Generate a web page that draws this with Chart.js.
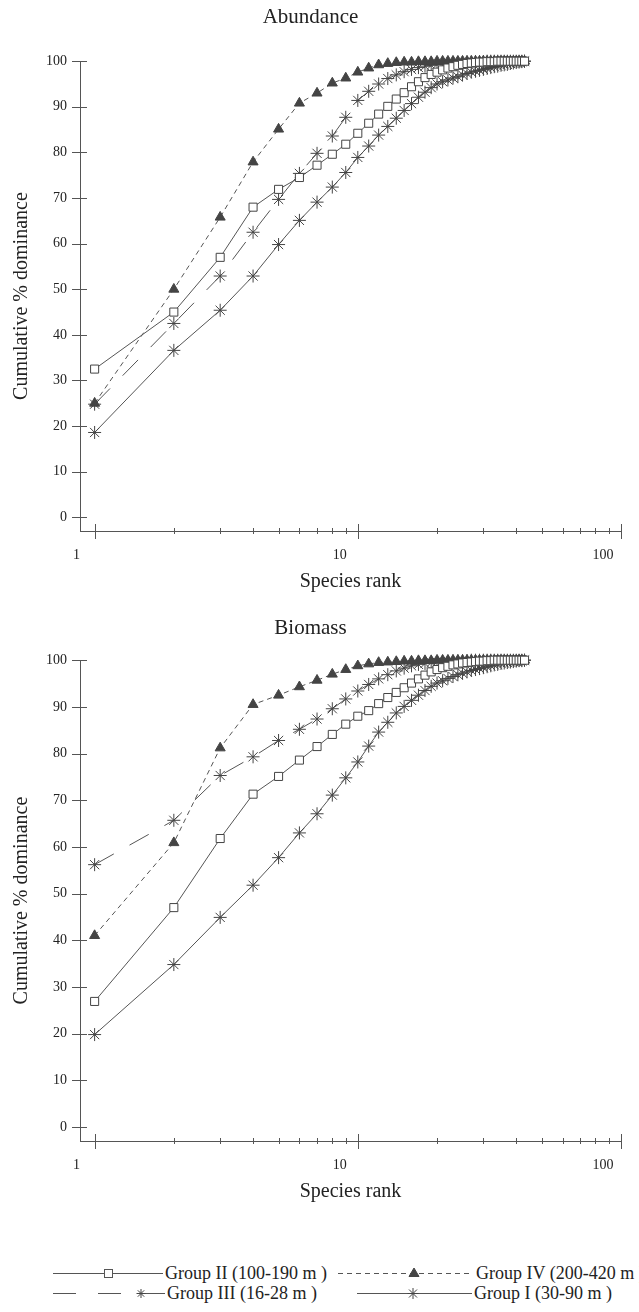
<!DOCTYPE html>
<html>
<head>
<meta charset="utf-8">
<script src="https://cdn.jsdelivr.net/npm/chart.js@4.4.1/dist/chart.umd.min.js"></script>
<style>
  html, body { margin: 0; padding: 0; background: #fff; overflow: hidden; }
  #page { position: relative; width: 639px; height: 1312px; overflow: hidden; }
  canvas { position: absolute; left: 0; }
  .lg { position: absolute; white-space: nowrap; line-height: 20px; font-family: 'Liberation Serif', 'Times New Roman', serif; font-size: 18px; color: #222; }
</style>
</head>
<body>
<div id="page">
  <canvas id="abundance" width="684" height="600" style="top:0"></canvas>
  <canvas id="biomass" width="684" height="610" style="top:600px"></canvas>
  <svg width="639" height="72" style="position:absolute;left:0;top:1240px" stroke="#555" stroke-width="1" fill="none">
    <line x1="53" y1="33.5" x2="163" y2="33.5"/>
    <rect x="104.5" y="29.5" width="8" height="8" fill="#fff"/>
    <line x1="338" y1="33.5" x2="473" y2="33.5" stroke-dasharray="5 4"/>
    <polygon points="414,28 419,36.5 409,36.5" fill="#444" stroke="#444"/>
    <line x1="53" y1="53.5" x2="165" y2="53.5" stroke-dasharray="23 22"/>
    <path d="M141 49v9M136.5 53.5h9M137.8 50.3l6.4 6.4M144.2 50.3l-6.4 6.4" stroke="#444"/>
    <line x1="357" y1="53.5" x2="472" y2="53.5"/>
    <path d="M413 48v11M407.5 53.5h11M409 49.5l8 8M417 49.5l-8 8" stroke="#444"/>
  </svg>
  <div class="lg" style="left:165px;top:1263px">Group II (100-190 m )</div>
  <div class="lg" style="left:476px;top:1263px">Group IV (200-420 m )</div>
  <div class="lg" style="left:167px;top:1283px">Group III (16-28 m )</div>
  <div class="lg" style="left:474px;top:1283px">Group I (30-90 m )</div>
</div>
<script>
// species rank of each point
const ranks = [1, 2, 3, 4, 5, 6, 7, 8, 9, 10, 11, 12, 13, 14, 15, 16, 17, 18, 19, 20, 21, 22,
    23, 24, 25, 26, 27, 28, 29, 30, 31, 32, 33, 34, 35, 36, 37, 38, 39, 40, 41, 42, 43];
const rankTicks = [1, 2, 3, 4, 5, 6, 7, 8, 9, 10, 20, 30, 40, 50, 60, 70, 80, 90, 100];
const majorRanks = [1, 10, 100];
const yTicks = [0, 10, 20, 30, 40, 50, 60, 70, 80, 90, 100];

const seriesNames = ['Group II (100-190 m )', 'Group IV (200-420 m )', 'Group III (16-28 m )', 'Group I (30-90 m )'];

// Abundance, cumulative % dominance
const abundG2 = [32.5, 45.0, 57.0, 68.0, 71.9, 74.5, 77.2, 79.6, 81.8, 84.2, 86.4, 88.4, 90.1, 91.7, 93.1,
    94.4, 95.5, 96.4, 97.1, 97.6, 98.1, 98.5, 98.8, 99.1, 99.3, 99.5, 99.6, 99.7, 99.8, 99.8, 99.9, 99.9,
    99.9, 100, 100, 100, 100, 100, 100, 100, 100, 100, 100];
const abundG4 = [25.0, 50.0, 65.8, 77.9, 85.1, 90.8, 93.0, 95.2, 96.3, 97.6, 98.5, 99.2, 99.5, 99.7, 99.8,
    99.8, 99.9, 99.9, 99.9, 100, 100, 100, 100, 100, 100, 100, 100, 100, 100, 100, 100, 100, 100, 100,
    100, 100, 100, 100, 100, 100, 100, 100, 100];
const abundG3 = [24.8, 42.5, 52.9, 62.5, 69.7, 75.4, 79.8, 83.6, 87.7, 91.4, 93.4, 95.0, 96.2, 97.0, 97.7,
    98.2, 98.6, 98.9, 99.1, 99.3, 99.4, 99.5, 99.6, 99.7, 99.7, 99.8, 99.8, 99.9, 99.9, 99.9, 100, 100,
    100, 100, 100, 100, 100, 100, 100, 100, 100, 100, 100];
const abundG1 = [18.6, 36.6, 45.4, 52.9, 59.8, 65.1, 69.1, 72.4, 75.6, 78.9, 81.4, 83.8, 85.7, 87.5, 89.2,
    90.7, 92.1, 93.2, 94.2, 95.0, 95.5, 95.9, 96.3, 96.6, 97.0, 97.3, 97.6, 97.8, 98.0, 98.2, 98.4, 98.6,
    98.8, 98.9, 99.1, 99.2, 99.3, 99.5, 99.6, 99.7, 99.8, 99.9, 100];

// Biomass, cumulative % dominance
const bioG2 = [26.9, 47.0, 61.8, 71.3, 75.1, 78.6, 81.5, 84.1, 86.3, 88.0, 89.2, 90.7, 92.0, 93.1, 94.1,
    95.1, 96.0, 96.8, 97.5, 98.0, 98.4, 98.7, 99.0, 99.2, 99.4, 99.5, 99.6, 99.7, 99.8, 99.8, 99.9, 99.9,
    100, 100, 100, 100, 100, 100, 100, 100, 100, 100, 100];
const bioG4 = [41.0, 60.9, 81.2, 90.5, 92.5, 94.3, 95.7, 97.0, 98.0, 98.8, 99.2, 99.5, 99.6, 99.7, 99.8,
    99.8, 99.9, 99.9, 99.9, 100, 100, 100, 100, 100, 100, 100, 100, 100, 100, 100, 100, 100, 100, 100,
    100, 100, 100, 100, 100, 100, 100, 100, 100];
const bioG3 = [56.2, 65.7, 75.3, 79.3, 82.8, 85.2, 87.4, 89.6, 91.7, 93.4, 94.8, 96.0, 96.9, 97.7, 98.3,
    98.8, 99.1, 99.3, 99.5, 99.6, 99.7, 99.7, 99.8, 99.8, 99.9, 99.9, 100, 100, 100, 100, 100, 100, 100,
    100, 100, 100, 100, 100, 100, 100, 100, 100, 100];
const bioG1 = [19.8, 34.8, 44.9, 51.8, 57.7, 63.0, 67.1, 71.1, 74.8, 78.2, 81.6, 84.6, 86.7, 88.7, 90.1,
    91.4, 92.5, 93.5, 94.4, 95.1, 95.6, 96.1, 96.5, 96.9, 97.2, 97.5, 97.8, 98.0, 98.2, 98.4, 98.6, 98.8,
    99.0, 99.1, 99.3, 99.4, 99.5, 99.6, 99.7, 99.8, 99.9, 99.9, 100];

const serif = "'Liberation Serif', 'Times New Roman', serif";
const textColor = '#222';
const axisColor = '#555';
const lineColor = '#555';
const markColor = '#444';

// tick marks that cross the axis line, like the original plot
const crossTicks = {
    id: 'crossTicks',
    beforeDatasetsDraw(chart) {
        const ctx = chart.ctx;
        const xs = chart.scales.x;
        const ys = chart.scales.y;
        const area = chart.chartArea;
        ctx.save();
        ctx.strokeStyle = axisColor;
        ctx.lineWidth = 1;
        ctx.beginPath();
        ys.ticks.forEach(t => {
            const py = Math.round(ys.getPixelForValue(t.value)) + 0.5;
            ctx.moveTo(area.left - 8, py);
            ctx.lineTo(area.left + 7, py);
        });
        xs.ticks.forEach(t => {
            const px = Math.round(xs.getPixelForValue(t.value)) + 0.5;
            const major = majorRanks.includes(t.value);
            ctx.moveTo(px, area.bottom - (major ? 7 : 3));
            ctx.lineTo(px, area.bottom + (major ? 8 : 3));
        });
        ctx.stroke();
        ctx.restore();
    }
};

function toPoints(values) {
    return values.map((v, i) => ({ x: ranks[i], y: v }));
}

function makeChart(id, title, titlePad, g2, g4, g3, g1) {
    const common = { borderColor: lineColor, borderWidth: 1, pointBorderColor: markColor, pointBorderWidth: 1, clip: false };
    new Chart(document.getElementById(id), {
        type: 'line',
        data: {
            datasets: [
                Object.assign({ label: seriesNames[0], data: toPoints(g2), pointStyle: 'rect', pointRadius: 5.7, pointBackgroundColor: '#fff' }, common),
                Object.assign({ label: seriesNames[1], data: toPoints(g4), borderDash: [5, 4], pointStyle: 'triangle', pointRadius: 5.8, pointBackgroundColor: markColor }, common),
                Object.assign({ label: seriesNames[2], data: toPoints(g3), borderDash: [22, 18], pointStyle: 'star', pointRadius: 6.5 }, common),
                Object.assign({ label: seriesNames[3], data: toPoints(g1), pointStyle: 'star', pointRadius: 6.5 }, common)
            ]
        },
        options: {
            responsive: false,
            animation: false,
            layout: { padding: { left: 0, right: 63, top: 0, bottom: 0 } },
            plugins: {
                legend: { display: false },
                tooltip: { enabled: false },
                title: {
                    display: true, text: title, color: textColor,
                    font: { family: serif, size: 21, weight: 'normal' },
                    padding: titlePad
                }
            },
            scales: {
                x: {
                    type: 'logarithmic', min: 0.88, max: 100,
                    afterBuildTicks: s => { s.ticks = rankTicks.map(v => ({ value: v })); },
                    afterFit: s => { s.height = 69; },
                    grid: { display: false, drawTicks: false },
                    border: { display: true, color: axisColor, width: 1 },
                    ticks: {
                        autoSkip: false, maxRotation: 0, labelOffset: -18, padding: 16,
                        color: textColor, font: { family: serif, size: 14 },
                        callback: v => majorRanks.includes(v) ? String(v) : ''
                    },
                    title: {
                        display: true, text: 'Species rank', color: textColor,
                        font: { family: serif, size: 20 }, padding: { top: 0, bottom: 6 }
                    }
                },
                y: {
                    type: 'linear', min: -3, max: 100,
                    afterBuildTicks: s => { s.ticks = yTicks.map(v => ({ value: v })); },
                    afterFit: s => { s.width = 80; },
                    grid: { display: false, drawTicks: false },
                    border: { display: true, color: axisColor, width: 1 },
                    ticks: { padding: 13, color: textColor, font: { family: serif, size: 14 } },
                    title: {
                        display: true, text: 'Cumulative % dominance', color: textColor,
                        font: { family: serif, size: 20 }, padding: { top: 10, bottom: 0 }
                    }
                }
            }
        },
        plugins: [crossTicks]
    });
}

makeChart('abundance', 'Abundance', { top: 5, bottom: 31 }, abundG2, abundG4, abundG3, abundG1);
makeChart('biomass', 'Biomass', { top: 16, bottom: 19 }, bioG2, bioG4, bioG3, bioG1);
</script>
</body>
</html>
